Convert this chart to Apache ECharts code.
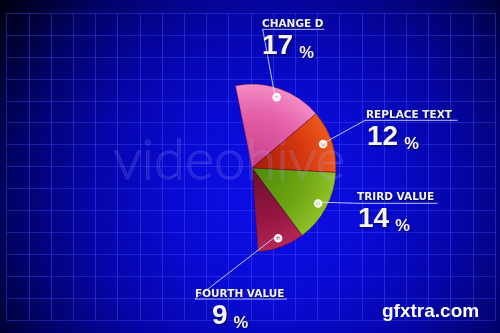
<!DOCTYPE html>
<html>
<head>
<meta charset="utf-8">
<script src="https://cdn.jsdelivr.net/npm/echarts@6/dist/echarts.min.js"></script>
<style>html,body{margin:0;padding:0;background:#000}#c{width:500px;height:333px}</style>
</head>
<body>
<div id="c"></div>
<script>
// ---- data ----
const categories = ['CHANGE D', 'REPLACE TEXT', 'TRIRD VALUE', 'FOURTH VALUE'];
const values = [17, 12, 14, 9];
const unitLabel = '%';

// ---- layout (positions only) ----
const pieCenter = [252, 168];
const pieRadius = 84;
const markerRadius = 72;
const startAngle = 101.4;              // degrees, ECharts convention
const spanPerPercent = 3.6;            // degrees per percentage point
const labelBoxes = [
  { x: 262, y: 17.5, indent: 0, corner: [262.7, 29.3], end: [324.5, 29.3] },
  { x: 366, y: 108.5, indent: 1, corner: [365, 120.3], end: [457.5, 120.3] },
  { x: 357, y: 190.5, indent: 1, corner: [358, 203.3], end: [437.5, 203.3] },
  { x: 195, y: 287.5, indent: 17, corner: [195, 299], end: [287, 299] }
];

const total = values.reduce((a, b) => a + b, 0);
const endAngle = startAngle - total * spanPerPercent;

// marker points at mid-angle of each slice
const markerPts = [];
(function () {
  let a = startAngle;
  values.forEach(v => {
    const span = v * spanPerPercent;
    const mid = (a - span / 2) * Math.PI / 180;
    markerPts.push([pieCenter[0] + markerRadius * Math.cos(mid), pieCenter[1] - markerRadius * Math.sin(mid)]);
    a -= span;
  });
})();

function rg(c0, c1, c2) {
  return { type: 'radial', x: pieCenter[0], y: pieCenter[1], r: pieRadius, global: true,
    colorStops: [{ offset: 0, color: c0 }, { offset: 0.65, color: c1 }, { offset: 1, color: c2 }] };
}
const sliceColors = [
  rg('#c63c84', '#e460a8', '#f48cc6'),
  rg('#a41a08', '#d63810', '#ee5a1e'),
  rg('#4c880a', '#70a614', '#8ec22a'),
  rg('#6c0e2e', '#961642', '#b42656')
];

const shadow = { textShadowColor: 'rgba(0,0,40,0.8)', textShadowBlur: 3, textShadowOffsetX: 1, textShadowOffsetY: 1 };

const chart = echarts.init(document.getElementById('c'), null, { renderer: 'canvas' });

const baseSeries = {
  type: 'pie',
  center: pieCenter,
  startAngle: startAngle,
  endAngle: endAngle,
  clockwise: true,
  avoidLabelOverlap: false,
  silent: true
};

const option = {
  animation: false,
  backgroundColor: {
    type: 'radial', x: 0.55, y: 0.6, r: 1.0,
    colorStops: [
      { offset: 0, color: '#0e0ee8' },
      { offset: 0.3, color: '#0a0ad4' },
      { offset: 0.55, color: '#0505a8' },
      { offset: 0.78, color: '#02026a' },
      { offset: 1, color: '#000012' }
    ]
  },
  grid: { left: 6.7, right: 4.9, top: 13.2, bottom: 13.2 },
  xAxis: {
    type: 'value', min: 0, max: 22, interval: 1,
    axisLine: { show: false }, axisTick: { show: false }, axisLabel: { show: false },
    splitLine: { show: true, lineStyle: { color: 'rgba(70,90,255,0.4)', width: 1 } }
  },
  yAxis: {
    type: 'value', min: 0, max: 14, interval: 1,
    axisLine: { show: false }, axisTick: { show: false }, axisLabel: { show: false },
    splitLine: { show: true, lineStyle: { color: 'rgba(70,90,255,0.35)', width: 1 } }
  },
  graphic: [
    { type: 'text', left: 113, top: 132, z: 100, silent: true,
      style: { text: 'videohive', fontFamily: 'Lato', fontWeight: 300, fontSize: 56,
        fill: 'rgba(160,160,255,0.12)', stroke: 'rgba(200,200,255,0.18)', lineWidth: 1 } },
    { type: 'text', left: 382, top: 302, z: 100, silent: true,
      style: { text: 'gfxtra.com', fontFamily: 'Liberation Sans', fontWeight: 'bold', fontSize: 19,
        fill: '#ffffff', shadowColor: 'rgba(0,0,0,0.5)', shadowBlur: 2 } }
  ],
  series: [
    Object.assign({}, baseSeries, {
      radius: [0, pieRadius],
      z: 2,
      data: categories.map((n, i) => ({ name: n, value: values[i], itemStyle: { color: sliceColors[i] } })),
      itemStyle: { borderColor: 'rgba(80,0,30,0.55)', borderWidth: 0.8 },
      label: { show: false },
      labelLine: { show: false }
    }),
    Object.assign({}, baseSeries, {
      radius: [0, pieRadius],
      z: 4,
      data: categories.map((n, i) => ({ name: n, value: values[i] })),
      itemStyle: { color: 'rgba(0,0,0,0)', borderWidth: 0 },
      label: {
        show: true,
        position: 'outside',
        formatter: p => {
          const ind = labelBoxes[p.dataIndex].indent;
          return '{name|' + p.name + '}\n' + (ind ? '{sp' + p.dataIndex + '|}' : '') + '{val|' + p.value + '}{pct|' + unitLabel + '}';
        },
        rich: {
          name: Object.assign({ fontFamily: 'DejaVu Sans', fontWeight: 'bold', fontSize: 10.5, lineHeight: 14, color: '#f2f2ff' },
            shadow, { textShadowBlur: 2 }),
          val: Object.assign({ fontFamily: 'Liberation Sans', fontWeight: 'bold', fontSize: 28, lineHeight: 30, color: '#f4f4fa' }, shadow),
          pct: Object.assign({ fontFamily: 'Liberation Sans', fontWeight: 'bold', fontSize: 16.5, lineHeight: 22, verticalAlign: 'bottom',
            padding: [0, 0, 0, 6], color: '#f4f4fa' }, shadow),
          sp1: { width: 1 }, sp2: { width: 1 }, sp3: { width: 17 }
        }
      },
      labelLine: { show: true, length: 10, length2: 10, lineStyle: { color: 'rgba(205,215,255,0.9)', width: 1 } },
      labelLayout: function (p) {
        const b = labelBoxes[p.dataIndex];
        return { x: b.x, y: b.y, align: 'left', verticalAlign: 'top',
          labelLinePoints: [markerPts[p.dataIndex], b.corner, b.end] };
      }
    }),
    Object.assign({}, baseSeries, {
      radius: [markerRadius - 12, markerRadius + 12],
      z: 6,
      data: categories.map((n, i) => ({ name: n, value: values[i] })),
      itemStyle: { color: 'rgba(0,0,0,0)', borderWidth: 0 },
      label: {
        show: true, position: 'inside', formatter: '{m|●}',
        rich: { m: { width: 6, height: 6, lineHeight: 6, align: 'center', borderRadius: 5, borderWidth: 1.3,
          borderColor: 'rgba(255,255,255,0.95)', backgroundColor: 'rgba(255,255,255,0.15)',
          fontSize: 5, color: '#ffffff' } }
      },
      labelLine: { show: false }
    })
  ]
};
chart.setOption(option);
</script>
</body>
</html>
